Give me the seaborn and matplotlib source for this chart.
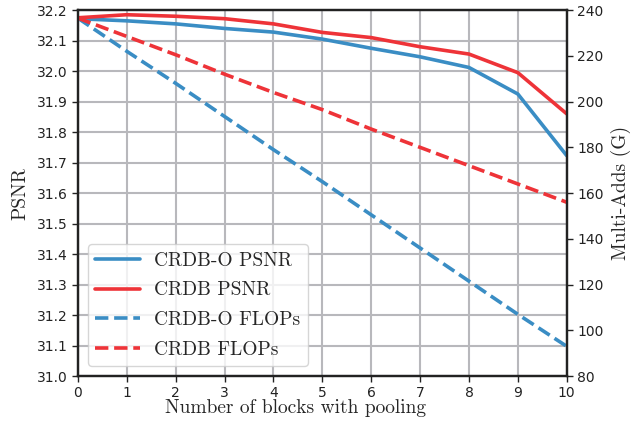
import matplotlib
matplotlib.use("Agg")
import matplotlib.pyplot as plt
import seaborn as sns
import pandas as pd

blocks = [0, 1, 2, 3, 4, 5, 6, 7, 8, 9, 10]
crdbo_psnr = [32.172, 32.165, 32.155, 32.140, 32.128, 32.105, 32.075, 32.047, 32.012, 31.925, 31.723]
crdb_psnr = [32.175, 32.185, 32.180, 32.172, 32.155, 32.127, 32.110, 32.080, 32.056, 31.995, 31.860]
crdbo_flops = [236.5, 222.0, 208.0, 193.5, 179.0, 165.0, 150.5, 136.0, 121.5, 107.0, 93.0]
crdb_flops = [236.5, 228.5, 220.5, 212.0, 204.0, 196.5, 188.0, 180.0, 172.0, 164.0, 156.0]

sns.set_style("ticks")
plt.rcParams['axes.unicode_minus'] = False

blue = '#3A8DC4'
red = '#EE3338'
serif = 'cmr10'

fig = plt.figure(figsize=(6.44, 4.23), dpi=100)
ax = fig.add_axes([0.121, 0.111, 0.759, 0.865])
ax2 = ax.twinx()

df = pd.DataFrame({'x': blocks, 'a': crdbo_psnr, 'b': crdb_psnr, 'c': crdbo_flops, 'd': crdb_flops})

sns.lineplot(data=df, x='x', y='a', ax=ax, color=blue, lw=2.6, label='CRDB-O PSNR', legend=False)
sns.lineplot(data=df, x='x', y='b', ax=ax, color=red, lw=2.6, label='CRDB PSNR', legend=False)
sns.lineplot(data=df, x='x', y='c', ax=ax2, color=blue, lw=2.6, ls=(0, (3.7, 1.6)), label='CRDB-O FLOPs', legend=False)
sns.lineplot(data=df, x='x', y='d', ax=ax2, color=red, lw=2.6, ls=(0, (3.7, 1.6)), label='CRDB FLOPs', legend=False)

ax.set_xlim(0, 10)
ax.set_ylim(31.0, 32.2)
ax2.set_ylim(80, 240)
ax.set_xticks(blocks)
ax.set_yticks([31.0 + 0.1 * i for i in range(13)])
ax.set_yticklabels([f"{31.0 + 0.1 * i:.1f}" for i in range(13)])
ax2.set_yticks(list(range(80, 241, 20)))

ax.grid(True, color='#b8b8bc', lw=1.5)
ax.set_axisbelow(True)
for a in (ax, ax2):
    for s in a.spines.values():
        s.set_color('#222222')
        s.set_linewidth(1.6)
    a.tick_params(labelsize=10, colors='#222222', width=1.0, length=4)

ax.set_xlabel('Number of blocks with pooling', fontfamily=serif, fontsize=14)
ax.xaxis.set_label_coords(0.446, -0.064)
ax.set_ylabel('PSNR', fontfamily=serif, fontsize=14, labelpad=5)
ax2.set_ylabel('Multi-Adds (G)', fontfamily=serif, fontsize=14, labelpad=5)

h1, l1 = ax.get_legend_handles_labels()
h2, l2 = ax2.get_legend_handles_labels()
leg = ax2.legend(h1 + h2, l1 + l2, loc='lower left', prop={'family': serif, 'size': 14},
                 frameon=True, fancybox=True, framealpha=0.8, edgecolor='#cccccc',
                 borderaxespad=0.5, handlelength=2.3, handletextpad=0.7, labelspacing=0.6)

fig.savefig('out.png', dpi=100)
